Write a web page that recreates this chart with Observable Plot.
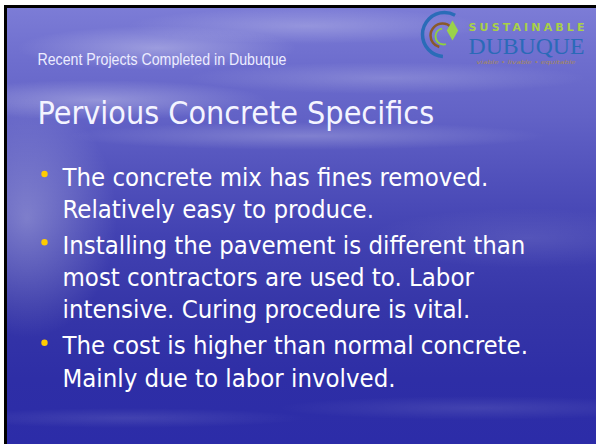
<!DOCTYPE html>
<html>
<head>
<meta charset="utf-8">
<script src="https://cdn.jsdelivr.net/npm/d3@7"></script>
<script src="https://cdn.jsdelivr.net/npm/@observablehq/plot@0.6"></script>
<style>
  html, body { margin: 0; padding: 0; background: #fff; width: 596px; height: 444px; overflow: hidden; }
  #slide { position: absolute; left: 4px; top: 5px; border-left: 3px solid #000; border-top: 3px solid #000; width: 589px; height: 436px; overflow: hidden; }
  #slide svg { display: block; }
</style>
</head>
<body>
<div id="slide"></div>
<script>
// ---- slide content ----
const headerText = "Recent Projects Completed in Dubuque";
const titleText = "Pervious Concrete Specifics";
const bullets = [
  ["The concrete mix has fines removed.", "Relatively easy to produce."],
  ["Installing the pavement is different than", "most contractors are used to. Labor", "intensive. Curing procedure is vital."],
  ["The cost is higher than normal concrete.", "Mainly due to labor involved."]
];
const logoTop = "SUSTAINABLE";
const logoName = "DUBUQUE";
const logoTag = "viable \u2022 livable \u2022 equitable";

// build row table: slot = running line index + small gap per bullet
const rows = [];
let k = 0;
bullets.forEach((lines, b) => {
  lines.forEach((t, j) => { rows.push({bullet: b, line: j, text: t, slot: k + b * 0.11}); k++; });
});
const heads = rows.filter(r => r.line === 0);

const bg = [
  "radial-gradient(ellipse 140px 22px at 150px 40px, rgba(255,255,255,0.30), rgba(255,255,255,0))",
  "radial-gradient(ellipse 180px 18px at 300px 18px, rgba(255,255,255,0.22), rgba(255,255,255,0))",
  "radial-gradient(ellipse 170px 20px at 90px 92px, rgba(255,255,255,0.30), rgba(255,255,255,0))",
  "radial-gradient(ellipse 200px 16px at 380px 70px, rgba(255,255,255,0.18), rgba(255,255,255,0))",
  "radial-gradient(ellipse 240px 14px at 300px 128px, rgba(255,255,255,0.22), rgba(255,255,255,0))",
  "radial-gradient(ellipse 90px 120px at 20px 210px, rgba(255,255,255,0.30), rgba(255,255,255,0))",
  "radial-gradient(ellipse 160px 30px at 520px 230px, rgba(255,255,255,0.10), rgba(255,255,255,0))",
  "radial-gradient(ellipse 200px 12px at 470px 400px, rgba(255,255,255,0.10), rgba(255,255,255,0))",
  "radial-gradient(ellipse 180px 10px at 120px 410px, rgba(255,255,255,0.10), rgba(255,255,255,0))",
  "linear-gradient(180deg, #7c7cd6 0%, #6e6ece 12%, #6262c6 25%, #5252bc 38%, #4242b2 52%, #3636a8 68%, #2e2ea6 85%, #2c2ca8 100%)"
].join(",");

const bodyFont = "'DejaVu Sans Condensed', 'DejaVu Sans', sans-serif";

const chart = Plot.plot({
  width: 589,
  height: 436,
  margin: 0,
  x: {domain: [0, 1], range: [37, 55], axis: null},
  y: {domain: [0, 6.22], range: [177, 378], axis: null},
  style: {background: bg, overflow: "visible"},
  marks: [
    // header
    Plot.text([headerText], {frameAnchor: "top-left", text: d => d, dx: 30, dy: 56, textAnchor: "start", lineAnchor: "bottom",
      fill: "#ececff", fontSize: 16.5, className: "hdr", fontFamily: "'Liberation Sans Narrow', 'Arial Narrow', 'Liberation Sans', sans-serif"}),
    // title
    Plot.text([titleText], {frameAnchor: "top-left", text: d => d, dx: 30, dy: 115, textAnchor: "start", lineAnchor: "bottom",
      fill: "#f4f4ff", fontSize: 32, fontFamily: bodyFont}),
    // logo swoosh
    Plot.dot([0], {frameAnchor: "top-left", dx: 437, dy: 26, r: 22, stroke: "#2a6cb8", strokeWidth: 3.5, fill: "none", strokeDasharray: "0 36 78 60"}),
    Plot.dot([0], {frameAnchor: "top-left", dx: 435, dy: 27, r: 12, stroke: "#8a5a2a", strokeWidth: 2.5, fill: "none", strokeDasharray: "0 22 44 40"}),
    Plot.dot([0], {frameAnchor: "top-left", dx: 436, dy: 28, r: 8, stroke: "#8fd040", strokeWidth: 2, fill: "none", strokeDasharray: "0 10 26 40"}),
    Plot.dot([0], {frameAnchor: "top-left", dx: 445, dy: 22, r: 6, symbol: "diamond", fill: "#9ad24a"}),
    // logo words
    Plot.text([logoTop], {frameAnchor: "top-left", text: d => d, dx: 461, dy: 22, textAnchor: "start", lineAnchor: "bottom",
      fill: "#a8d048", fontSize: 11, fontWeight: "bold", className: "logo-top", fontFamily: "'DejaVu Sans', sans-serif"}),
    Plot.text([logoName], {frameAnchor: "top-left", text: d => d, dx: 461, dy: 45, textAnchor: "start", lineAnchor: "bottom",
      fill: "#2a6ab8", fontSize: 24, className: "logo-name", fontFamily: "'Liberation Serif', 'DejaVu Serif', serif"}),
    Plot.text([logoTag], {frameAnchor: "top-left", text: d => d, dx: 469, dy: 55, textAnchor: "start", lineAnchor: "bottom",
      fill: "#a88a58", fontSize: 5.5, fontStyle: "italic", className: "logo-tag", fontFamily: "'DejaVu Sans', sans-serif"}),
    // bullets
    Plot.dot(heads, {x: () => 0, y: "slot", dy: -11.5, r: 3.2, fill: "#ffcc00"}),
    // body text
    Plot.text(rows, {x: () => 1, y: "slot", text: "text", textAnchor: "start", lineAnchor: "bottom",
      fill: "#ffffff", fontSize: 25.5, fontFamily: bodyFont})
  ]
});
// fit widths to the reference
const sel = d3.select(chart);
sel.selectAll("g.hdr text").attr("textLength", 249).attr("lengthAdjust", "spacingAndGlyphs");
sel.selectAll("g.logo-top text").attr("textLength", 116).attr("lengthAdjust", "spacing");
sel.selectAll("g.logo-name text").attr("textLength", 116).attr("lengthAdjust", "spacingAndGlyphs");
sel.selectAll("g.logo-tag text").attr("textLength", 99).attr("lengthAdjust", "spacingAndGlyphs");
document.getElementById("slide").appendChild(chart);
</script>
</body>
</html>
